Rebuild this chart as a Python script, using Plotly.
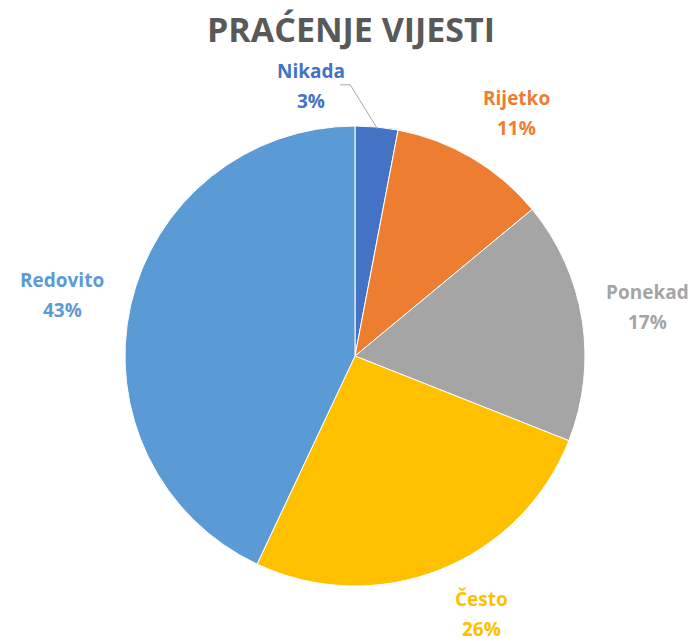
import math
import plotly.graph_objects as go

categories = ["Nikada", "Rijetko", "Ponekad", "Često", "Redovito"]
values = [3, 11, 17, 26, 43]
colors = ["#4472C4", "#ED7D31", "#A5A5A5", "#FFC000", "#5B9BD5"]

W, H = 696, 639
OX, OY = 8, 8  # page body margin: figure is drawn shifted by this much
CX, CY, R = 355, 356, 230
# label distance (in radii) per slice and extra angular shift (deg)
label_r = [1.19, 1.27, 1.29, 1.25, 1.30]
label_shift = [-14.6, 3, -0.5, -4.4, -0.9]


def px(x):
    return (x - OX) / W


def py(y):
    return 1 - (y - OY) / H


fig = go.Figure(go.Pie(
    labels=categories, values=values, sort=False, direction="clockwise",
    rotation=0, marker=dict(colors=colors, line=dict(color="white", width=1)),
    textinfo="none", hoverinfo="label+percent", showlegend=False,
    domain=dict(x=[px(CX - R), px(CX + R)], y=[py(CY + R), py(CY - R)]),
))

total = sum(values)
cum = 0
annotations = []
shapes = []
for i, (c, v) in enumerate(zip(categories, values)):
    mid = (cum + v / 2) / total * 360
    cum += v
    a = math.radians(mid + label_shift[i])
    lx = CX + R * label_r[i] * math.sin(a)
    ly = CY - R * label_r[i] * math.cos(a)
    pct = round(v / total * 100)
    for txt, yy in ((c, ly - 15), (f"{pct}%", ly + 15)):
        annotations.append(dict(
            x=px(lx), y=py(yy), xref="paper", yref="paper",
            text=f"<b>{txt}</b>", showarrow=False,
            font=dict(family="Open Sans", size=19, color=colors[i]),
            align="center", xanchor="center", yanchor="middle",
        ))
    if label_shift[i] < -10:
        am = math.radians(mid)
        ex = CX + R * math.sin(am) + 1
        ey = CY - R * math.cos(am) + 2
        shapes.append(dict(type="path", xref="paper", yref="paper",
                           path=f"M {px(lx + 29)} {py(ly - 1)} L {px(lx + 39)} {py(ly - 1)} L {px(ex)} {py(ey)}",
                           line=dict(color="#A6A6A6", width=1)))

fig.update_layout(
    width=W, height=H, margin=dict(l=0, r=0, t=0, b=0),
    paper_bgcolor="white", plot_bgcolor="white",
    title=dict(text="<b>PRAĆENJE VIJESTI</b>", x=px(351), xanchor="center",
               y=py(30), yanchor="middle",
               font=dict(family="Open Sans", size=34, color="#595959")),
    annotations=annotations, shapes=shapes,
)
fig.write_html("out.html")
